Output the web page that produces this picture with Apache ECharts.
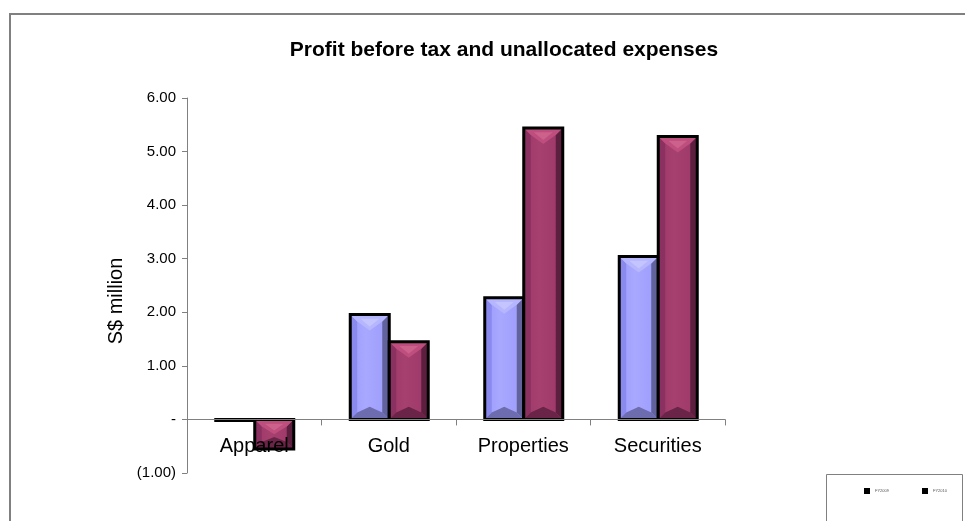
<!DOCTYPE html>
<html>
<head>
<meta charset="utf-8">
<script src="https://cdn.jsdelivr.net/npm/echarts@6/dist/echarts.min.js"></script>
<style>html,body{margin:0;padding:0;background:#fff}#c{width:965px;height:521px}</style>
</head>
<body>
<div id="c"></div>
<script>
var categories = ['Apparel', 'Gold', 'Properties', 'Securities'];
var seriesNames = ['FY2009', 'FY2010'];
var fy1 = [-0.02, 1.96, 2.27, 3.04];
var fy2 = [-0.55, 1.45, 5.44, 5.28];
var yTicks = [-1, 0, 1, 2, 3, 4, 5, 6];
var yMin = -1, yMax = 6;

var palettes = [
  { left: '#8a8aee', mid1: '#9c9cfc', mid2: '#a8a8ff', right: '#62629c', top: '#b6b6ff', topTip: '#c8c8ff', bottom: '#6c6cae' },
  { left: '#8a3161', mid1: '#9c3868', mid2: '#a6406f', right: '#5c1f3e', top: '#bd4e7d', topTip: '#d0668f', bottom: '#6a2447' }
];

var gridTop = 98, gridBottom = 48, H = 521;
var plotH = H - gridTop - gridBottom;
var zeroOffset = -plotH * (0 - yMin) / (yMax - yMin);
var BW = 39;

function makeRender(sIdx) {
  var pal = palettes[sIdx];
  return function (params, api) {
    var ci = api.value(0), v = api.value(1);
    var p0 = api.coord([ci, 0]);
    var p1 = api.coord([ci, v]);
    var x = sIdx === 0 ? p0[0] - BW + 0.5 : p0[0] + 0.5;
    var yT = Math.min(p0[1], p1[1]), yB = Math.max(p0[1], p1[1]);
    var h = Math.max(yB - yT, 1);
    yB = yT + h;
    var s = Math.min(7, h / 2), t = Math.min(16, h / 2);
    var w = BW;
    var mid = new echarts.graphic.LinearGradient(0, 0, 1, 0, [
      { offset: 0, color: pal.mid1 }, { offset: 0.4, color: pal.mid2 }, { offset: 1, color: pal.mid1 }
    ]);
    var children = [
      { type: 'rect', shape: { x: x, y: yT, width: w, height: h }, style: { fill: mid } },
      { type: 'polygon', shape: { points: [[x, yT], [x + s, yT + s], [x + s, yB - s], [x, yB]] }, style: { fill: pal.left } },
      { type: 'polygon', shape: { points: [[x + w, yT], [x + w - s, yT + s], [x + w - s, yB - s], [x + w, yB]] }, style: { fill: pal.right } },
      { type: 'polygon', shape: { points: [[x, yT], [x + w, yT], [x + w - s, yT + s], [x + w / 2, yT + t], [x + s, yT + s]] }, style: { fill: pal.top } },
      { type: 'polygon', shape: { points: [[x + s + 3, yT + s * 0.6], [x + w - s - 3, yT + s * 0.6], [x + w / 2, yT + t * 0.75]] }, style: { fill: pal.topTip, opacity: h > 20 ? 0.8 : 0 } },
      { type: 'polygon', shape: { points: [[x, yB], [x + w, yB], [x + w - s, yB - s], [x + w / 2, yB - t * 0.8], [x + s, yB - s]] }, style: { fill: pal.bottom } },
      { type: 'rect', shape: { x: x, y: yT, width: w, height: h }, style: { fill: 'none', stroke: '#000', lineWidth: 3 } }
    ];
    return { type: 'group', children: children };
  };
}

function toData(arr) { return arr.map(function (v, i) { return [i, v]; }); }

var chart = echarts.init(document.getElementById('c'));
chart.setOption({
  animation: false,
  title: {
    text: 'Profit before tax and unallocated expenses',
    left: 499, top: 35, textAlign: 'center',
    textStyle: { fontFamily: 'Liberation Sans', fontSize: 21, fontWeight: 'bold', color: '#000' }
  },
  grid: { left: 187, right: 240, top: gridTop, bottom: gridBottom },
  legend: {
    data: seriesNames.map(function (n) { return { name: n, icon: 'rect', itemStyle: { color: '#000', borderWidth: 0 } }; }),
    left: 859, top: 483,
    itemWidth: 6, itemHeight: 6, itemGap: 33,
    textStyle: { fontSize: 4, color: '#555', fontFamily: 'Liberation Sans' },
    selectedMode: false
  },
  graphic: [
    { type: 'rect', shape: { x: 10, y: 14, width: 1200, height: 1200 }, style: { fill: 'none', stroke: '#808080', lineWidth: 2 }, z: -1 },
    { type: 'rect', shape: { x: 826.5, y: 474.5, width: 136, height: 100 }, style: { fill: '#fff', stroke: '#808080', lineWidth: 1 }, z: 0 },
    { type: 'text', x: 116, y: 301, rotation: Math.PI / 2,
      style: { text: 'S$ million', fontFamily: 'Liberation Sans', fontSize: 20, fill: '#000', textAlign: 'center', textVerticalAlign: 'middle' } }
  ],
  xAxis: {
    type: 'category',
    data: categories,
    z: 20,
    offset: zeroOffset,
    axisLine: { onZero: false, lineStyle: { color: '#808080', width: 1 } },
    axisTick: { show: true, length: 6, alignWithLabel: false, lineStyle: { color: '#808080' } },
    axisLabel: { margin: 17, fontFamily: 'Liberation Sans', fontSize: 20, color: '#000' },
    splitLine: { show: false }
  },
  yAxis: {
    type: 'value',
    min: yMin, max: yMax, interval: 1,
    axisLine: { show: true, lineStyle: { color: '#808080', width: 1 } },
    axisTick: { show: true, length: 5, lineStyle: { color: '#808080' } },
    axisLabel: {
      margin: 11,
      fontFamily: 'Liberation Sans', fontSize: 15, color: '#000',
      formatter: function (v) {
        if (yTicks.indexOf(v) < 0) return '';
        if (v === 0) return '-';
        if (v < 0) return '(' + Math.abs(v).toFixed(2) + ')';
        return v.toFixed(2);
      }
    },
    splitLine: { show: false }
  },
  series: [
    { name: seriesNames[0], type: 'custom', data: toData(fy1), renderItem: makeRender(0),
      encode: { x: 0, y: 1 }, itemStyle: { color: '#000' }, z: 1 },
    { name: seriesNames[1], type: 'custom', data: toData(fy2), renderItem: makeRender(1),
      encode: { x: 0, y: 1 }, itemStyle: { color: '#000' }, z: 1 }
  ]
});
</script>
</body>
</html>
